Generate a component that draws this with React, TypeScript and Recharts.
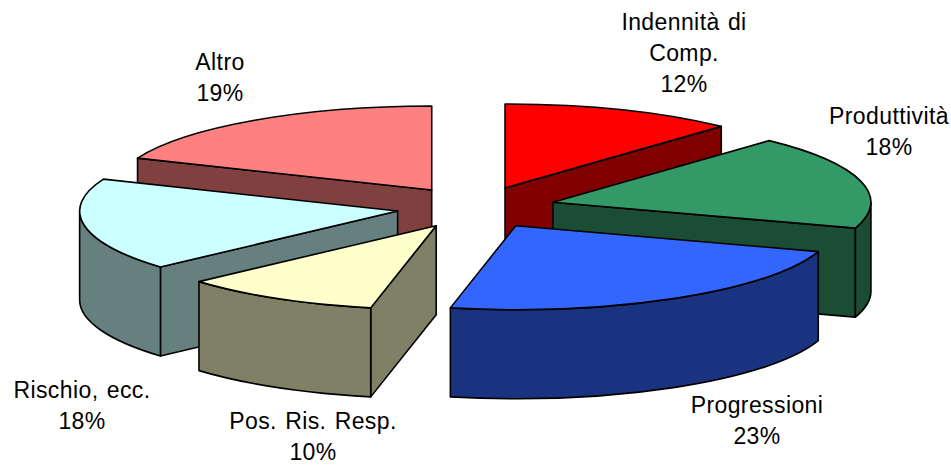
import { PieChart, Pie } from 'recharts';

// Drawn clockwise from 12 o'clock; the left half runs the other way so the paint order is back-to-front
const rightNames = ['Indennità di\nComp.', 'Produttività', 'Progressioni'];
const rightValues = [11.9, 18.1, 23.3];
const rightColors = ['#ff0000', '#339966', '#3366ff'];
const rightSides = ['#800000', '#1a4d33', '#1a3380'];

const leftNames = ['Altro', 'Rischio, ecc.', 'Pos. Ris. Resp.'];
const leftValues = [18.8, 17.8, 10.1];
const leftColors = ['#ff8080', '#ccffff', '#ffffcc'];
const leftSides = ['#804040', '#668080', '#808066'];

// Where each data label sits: centre x, first baseline
const labelSpots: Record<string, [number, number]> = {
  'Indennità di\nComp.': [684, 30],
  'Produttività': [889, 124],
  'Progressioni': [757, 413],
  'Altro': [220, 70],
  'Rischio, ecc.': [82, 398],
  'Pos. Ris. Resp.': [313, 429],
};

const CX = 476;
const CY = 207.5;
const RX = 318;
const RY = 84;
const DEPTH = 89;
const EXPLODE = 0.25;
const LINE_HEIGHT = 31;

const rad = (deg: number) => (deg * Math.PI) / 180;

function Sector3D(props: any) {
  const { cx, cy, outerRadius, startAngle, endAngle, fill, side } = props;
  const rx = outerRadius;
  const ry = (outerRadius * RY) / RX;

  // t = degrees clockwise from the top of the ellipse
  let t0 = Math.min(90 - startAngle, 90 - endAngle);
  let t1 = Math.max(90 - startAngle, 90 - endAngle);
  if (t0 < 0) {
    t0 += 360;
    t1 += 360;
  }
  const mid = (t0 + t1) / 2;
  const ax = cx + EXPLODE * rx * Math.sin(rad(mid));
  const ay = cy - EXPLODE * ry * Math.cos(rad(mid));
  const px = (t: number) => ax + rx * Math.sin(rad(t));
  const py = (t: number) => ay - ry * Math.cos(rad(t));

  const wall = (t: number) =>
    `M${ax},${ay} L${px(t)},${py(t)} L${px(t)},${py(t) + DEPTH} L${ax},${ay + DEPTH} Z`;

  const rimFrom = Math.max(t0, 90);
  const rimTo = Math.min(t1, 270);
  const big = t1 - t0 > 180 ? 1 : 0;

  const common = { stroke: '#000', strokeWidth: 1.6, strokeLinejoin: 'round' as const };

  return (
    <g>
      {Math.sin(rad(t1)) > 0 && <path d={wall(t1)} fill={side} {...common} />}
      {Math.sin(rad(t0)) < 0 && <path d={wall(t0)} fill={side} {...common} />}
      {rimTo > rimFrom && (
        <path
          d={`M${px(rimFrom)},${py(rimFrom)} A${rx},${ry} 0 0 1 ${px(rimTo)},${py(rimTo)} L${px(rimTo)},${py(rimTo) + DEPTH} A${rx},${ry} 0 0 0 ${px(rimFrom)},${py(rimFrom) + DEPTH} Z`}
          fill={side}
          {...common}
        />
      )}
      <path
        d={`M${ax},${ay} L${px(t0)},${py(t0)} A${rx},${ry} 0 ${big} 1 ${px(t1)},${py(t1)} Z`}
        fill={fill}
        {...common}
      />
    </g>
  );
}

function renderLabel(props: any) {
  const name = props.name ?? props.payload?.name;
  const [x, y] = labelSpots[name] ?? [0, 0];
  const lines = [...String(name).split('\n'), `${Math.round(props.value)}%`];
  return (
    <text
      key={name}
      x={x}
      y={y}
      textAnchor="middle"
      fill="#000"
      fontFamily="Liberation Sans, Arial, sans-serif"
      fontSize={23}
      letterSpacing={0.4}
      wordSpacing={1.5}
    >
      {lines.map((line, i) => (
        <tspan key={i} x={x} y={y + i * LINE_HEIGHT}>
          {line}
        </tspan>
      ))}
    </text>
  );
}

const sum = (list: number[]) => list.reduce((a, b) => a + b, 0);
const total = sum(rightValues) + sum(leftValues);

const rightData = rightNames.map((name, i) => ({ name, value: rightValues[i], fill: rightColors[i], side: rightSides[i] }));
const leftData = leftNames.map((name, i) => ({ name, value: leftValues[i], fill: leftColors[i], side: leftSides[i] }));

export default function App() {
  const shape = (p: any) => <Sector3D {...p} />;
  return (
    <div style={{ position: 'absolute', left: 0, top: 0, width: 951, height: 465, background: '#fff' }}>
      <PieChart width={951} height={465} margin={{ top: 0, right: 0, bottom: 0, left: 0 }}>
        <Pie
          data={leftData}
          dataKey="value"
          nameKey="name"
          cx={CX}
          cy={CY}
          innerRadius={0}
          outerRadius={RX}
          startAngle={90}
          endAngle={90 + (sum(leftValues) / total) * 360}
          paddingAngle={0}
          shape={shape}
          inactiveShape={shape}
          label={renderLabel}
          labelLine={false}
          isAnimationActive={false}
        />
        <Pie
          data={rightData}
          dataKey="value"
          nameKey="name"
          cx={CX}
          cy={CY}
          innerRadius={0}
          outerRadius={RX}
          startAngle={90}
          endAngle={90 - (sum(rightValues) / total) * 360}
          paddingAngle={0}
          shape={shape}
          inactiveShape={shape}
          label={renderLabel}
          labelLine={false}
          isAnimationActive={false}
        />
      </PieChart>
    </div>
  );
}
